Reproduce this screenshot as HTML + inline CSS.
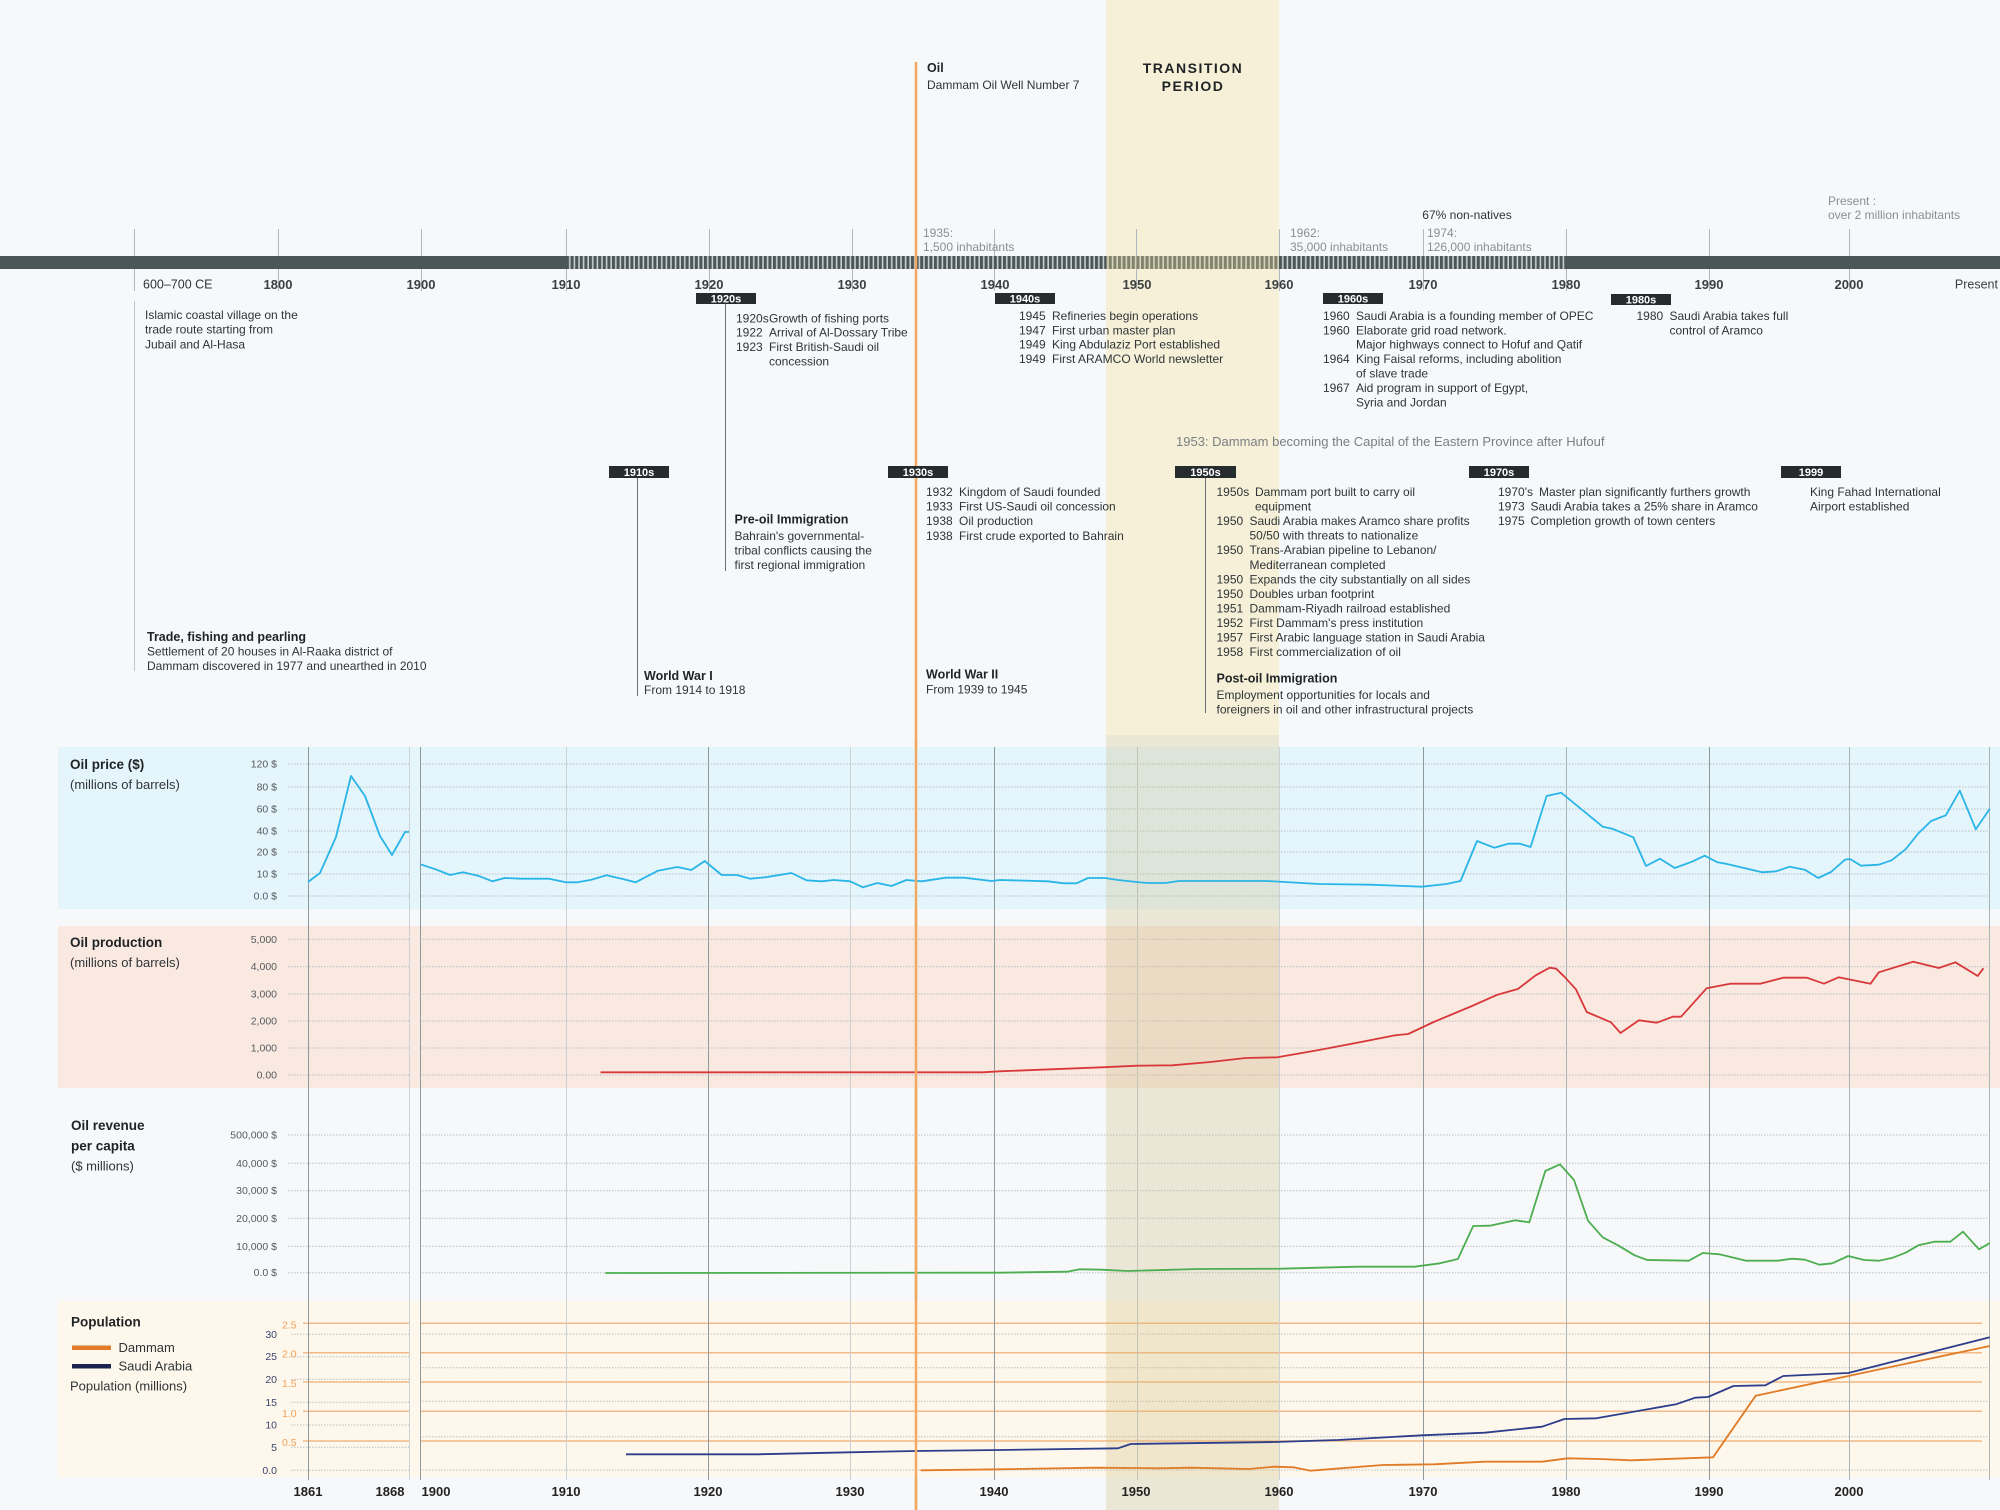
<!DOCTYPE html>
<html><head><meta charset="utf-8"><title>Dammam timeline</title>
<style>
html,body{margin:0;padding:0;background:#f7f8fa;}
svg{display:block;font-family:"Liberation Sans","DejaVu Sans",sans-serif;}
.t{font-size:12px;fill:#2f3437;}
.b{font-size:12.5px;font-weight:bold;fill:#1f2325;}
.g{font-size:12px;fill:#8a8f92;}
.yr{font-size:13px;font-weight:bold;fill:#3a3f42;text-anchor:middle;}
.box{fill:#262c2e;}
.bt{font-size:11px;font-weight:bold;fill:#ffffff;text-anchor:middle;}
.tk{font-size:10.5px;fill:#555b5e;text-anchor:end;}
.tko{font-size:10.5px;fill:#eea15c;}
.lab{font-size:13.5px;font-weight:bold;fill:#1f2325;}
.sub{font-size:13px;fill:#2f3437;}
.ax{font-size:13px;font-weight:bold;fill:#222;text-anchor:middle;}
.grid{stroke:#b7c0c4;stroke-width:1;stroke-dasharray:1.5 1.5;}
.og{stroke:#f2ba88;stroke-width:1.5;}
</style></head>
<body>
<svg width="2000" height="1510" viewBox="0 0 2000 1510" xmlns="http://www.w3.org/2000/svg">
<defs>
<pattern id="st" x="566" y="0" width="4.6" height="20" patternUnits="userSpaceOnUse">
<rect width="4.6" height="20" fill="#4b5659"/>
<rect x="3" width="1.6" height="20" fill="#c7ced0"/>
</pattern>
</defs>
<rect width="2000" height="1510" fill="#f7f8fa"/>

<!-- ===== TOP TIMELINE ===== -->
<rect x="0" y="256" width="2000" height="13" fill="#4b5659"/>
<rect x="566" y="256" width="1000" height="13" fill="url(#st)"/>

<!-- transition band top -->
<rect x="1106" y="0" width="173" height="735" fill="rgba(245,225,150,0.33)"/>

<!-- orange oil line (behind boxes/text) -->
<line x1="916" y1="62" x2="916" y2="1510" stroke="#f0a862" stroke-width="2.5"/>

<!-- ticks -->
<g stroke="#b0b8bb" stroke-width="1">
<line x1="134.5" y1="229" x2="134.5" y2="256"/><line x1="134.5" y1="269" x2="134.5" y2="291"/>
<line x1="278.5" y1="229" x2="278.5" y2="256"/><line x1="278.5" y1="269" x2="278.5" y2="291"/>
<line x1="421.5" y1="229" x2="421.5" y2="256"/><line x1="421.5" y1="269" x2="421.5" y2="291"/>
<line x1="566.5" y1="229" x2="566.5" y2="256"/><line x1="566.5" y1="269" x2="566.5" y2="291"/>
<line x1="709.5" y1="229" x2="709.5" y2="256"/><line x1="709.5" y1="269" x2="709.5" y2="291"/>
<line x1="852.5" y1="229" x2="852.5" y2="256"/><line x1="852.5" y1="269" x2="852.5" y2="291"/>
<line x1="994.5" y1="229" x2="994.5" y2="256"/><line x1="994.5" y1="269" x2="994.5" y2="291"/>
<line x1="1136.5" y1="229" x2="1136.5" y2="256"/><line x1="1136.5" y1="269" x2="1136.5" y2="291"/>
<line x1="1279.5" y1="229" x2="1279.5" y2="256"/><line x1="1279.5" y1="269" x2="1279.5" y2="291"/>
<line x1="1423.5" y1="229" x2="1423.5" y2="256"/><line x1="1423.5" y1="269" x2="1423.5" y2="291"/>
<line x1="1566.5" y1="229" x2="1566.5" y2="256"/><line x1="1566.5" y1="269" x2="1566.5" y2="291"/>
<line x1="1709.5" y1="229" x2="1709.5" y2="256"/><line x1="1709.5" y1="269" x2="1709.5" y2="291"/>
<line x1="1849.5" y1="229" x2="1849.5" y2="256"/><line x1="1849.5" y1="269" x2="1849.5" y2="291"/>
</g>
<line x1="134.5" y1="301" x2="134.5" y2="671" stroke="#c0c6c8" stroke-width="1"/>

<!-- year labels -->
<text x="143" y="288.5" class="t" style="font-size:12.5px">600–700 CE</text>
<text x="278" y="289" class="yr">1800</text>
<text x="421" y="289" class="yr">1900</text>
<text x="566" y="289" class="yr">1910</text>
<text x="709" y="289" class="yr">1920</text>
<text x="852" y="289" class="yr">1930</text>
<text x="995" y="289" class="yr">1940</text>
<text x="1137" y="289" class="yr">1950</text>
<text x="1279" y="289" class="yr">1960</text>
<text x="1423" y="289" class="yr">1970</text>
<text x="1566" y="289" class="yr">1980</text>
<text x="1709" y="289" class="yr">1990</text>
<text x="1849" y="289" class="yr">2000</text>
<text x="1998" y="288.5" class="t" text-anchor="end" style="font-size:12.5px;fill:#3a3f42">Present</text>

<!-- inhabitants annotations -->
<text x="923" y="237" class="g">1935:</text>
<text x="923" y="251" class="g">1,500 inhabitants</text>
<text x="1290" y="237" class="g">1962:</text>
<text x="1290" y="251" class="g">35,000 inhabitants</text>
<text x="1427" y="237" class="g">1974:</text>
<text x="1427" y="251" class="g">126,000 inhabitants</text>
<text x="1467" y="219" class="t" text-anchor="middle">67% non-natives</text>
<text x="1828" y="205" class="g">Present :</text>
<text x="1828" y="219" class="g">over 2 million inhabitants</text>

<!-- Oil / Transition -->
<text x="927" y="72" class="b">Oil</text>
<text x="927" y="89" class="t">Dammam Oil Well Number 7</text>
<text x="1193" y="73" text-anchor="middle" style="font-size:14px;font-weight:bold;fill:#1f2325;letter-spacing:1.5px">TRANSITION</text>
<text x="1193" y="91" text-anchor="middle" style="font-size:14px;font-weight:bold;fill:#1f2325;letter-spacing:1.5px">PERIOD</text>

<!-- connectors -->
<g stroke="#6b7173" stroke-width="1">
<line x1="725.5" y1="304" x2="725.5" y2="571"/>
<line x1="637.5" y1="478" x2="637.5" y2="696"/>
<line x1="1205.5" y1="478" x2="1205.5" y2="713"/>
</g>

<!-- decade boxes -->
<rect x="696" y="293" width="60" height="11" class="box"/><text x="726" y="302.5" class="bt">1920s</text>
<rect x="995" y="293" width="60" height="11" class="box"/><text x="1025" y="302.5" class="bt">1940s</text>
<rect x="1323" y="293" width="60" height="11" class="box"/><text x="1353" y="302.5" class="bt">1960s</text>
<rect x="1611" y="294" width="60" height="11" class="box"/><text x="1641" y="303.5" class="bt">1980s</text>
<rect x="609" y="466" width="60" height="12" class="box"/><text x="639" y="476" class="bt">1910s</text>
<rect x="888" y="466" width="60" height="12" class="box"/><text x="918" y="476" class="bt">1930s</text>
<rect x="1175" y="466" width="61" height="12" class="box"/><text x="1205.5" y="476" class="bt">1950s</text>
<rect x="1469" y="466" width="60" height="12" class="box"/><text x="1499" y="476" class="bt">1970s</text>
<rect x="1781" y="466" width="60" height="12" class="box"/><text x="1811" y="476" class="bt">1999</text>

<!-- 600-700 text -->
<text x="145" y="319" class="t">Islamic coastal village on the</text>
<text x="145" y="333.7" class="t">trade route starting from</text>
<text x="145" y="348.3" class="t">Jubail and Al-Hasa</text>

<!-- 1920s -->
<text x="736" y="322.3" class="t">1920s</text><text x="769" y="322.3" class="t">Growth of fishing ports</text>
<text x="736" y="336.6" class="t">1922</text><text x="769" y="336.6" class="t">Arrival of Al-Dossary Tribe</text>
<text x="736" y="351" class="t">1923</text><text x="769" y="351" class="t">First British-Saudi oil</text>
<text x="769" y="365.4" class="t">concession</text>

<!-- 1940s -->
<text x="1019" y="319.9" class="t">1945</text><text x="1052" y="319.9" class="t">Refineries begin operations</text>
<text x="1019" y="334.3" class="t">1947</text><text x="1052" y="334.3" class="t">First urban master plan</text>
<text x="1019" y="348.6" class="t">1949</text><text x="1052" y="348.6" class="t">King Abdulaziz Port established</text>
<text x="1019" y="363.2" class="t">1949</text><text x="1052" y="363.2" class="t">First ARAMCO World newsletter</text>

<!-- 1960s -->
<text x="1323" y="319.9" class="t">1960</text><text x="1356" y="319.9" class="t">Saudi Arabia is a founding member of OPEC</text>
<text x="1323" y="334.3" class="t">1960</text><text x="1356" y="334.3" class="t">Elaborate grid road network.</text>
<text x="1356" y="348.6" class="t">Major highways connect to Hofuf and Qatif</text>
<text x="1323" y="363.2" class="t">1964</text><text x="1356" y="363.2" class="t">King Faisal reforms, including abolition</text>
<text x="1356" y="377.5" class="t">of slave trade</text>
<text x="1323" y="392.2" class="t">1967</text><text x="1356" y="392.2" class="t">Aid program in support of Egypt,</text>
<text x="1356" y="406.5" class="t">Syria and Jordan</text>

<!-- 1980s -->
<text x="1636.5" y="319.9" class="t">1980</text><text x="1669.5" y="319.9" class="t">Saudi Arabia takes full</text>
<text x="1669.5" y="334.3" class="t">control of Aramco</text>

<!-- 1953 note -->
<text x="1176" y="446.2" style="font-size:13px;fill:#7a7f82">1953: Dammam becoming the Capital of the Eastern Province after Hufouf</text>

<!-- 1930s -->
<text x="926" y="495.9" class="t">1932</text><text x="959" y="495.9" class="t">Kingdom of Saudi founded</text>
<text x="926" y="510.5" class="t">1933</text><text x="959" y="510.5" class="t">First US-Saudi oil concession</text>
<text x="926" y="525.2" class="t">1938</text><text x="959" y="525.2" class="t">Oil production</text>
<text x="926" y="539.9" class="t">1938</text><text x="959" y="539.9" class="t">First crude exported to Bahrain</text>

<!-- 1950s -->
<text x="1216.5" y="495.9" class="t">1950s</text><text x="1255" y="495.9" class="t">Dammam port built to carry oil</text>
<text x="1255" y="510.5" class="t">equipment</text>
<text x="1216.5" y="525.1" class="t">1950</text><text x="1249.5" y="525.1" class="t">Saudi Arabia makes Aramco share profits</text>
<text x="1249.5" y="539.6" class="t">50/50 with threats to nationalize</text>
<text x="1216.5" y="554.2" class="t">1950</text><text x="1249.5" y="554.2" class="t">Trans-Arabian pipeline to Lebanon/</text>
<text x="1249.5" y="568.8" class="t">Mediterranean completed</text>
<text x="1216.5" y="583.4" class="t">1950</text><text x="1249.5" y="583.4" class="t">Expands the city substantially on all sides</text>
<text x="1216.5" y="597.9" class="t">1950</text><text x="1249.5" y="597.9" class="t">Doubles urban footprint</text>
<text x="1216.5" y="612.5" class="t">1951</text><text x="1249.5" y="612.5" class="t">Dammam-Riyadh railroad established</text>
<text x="1216.5" y="627" class="t">1952</text><text x="1249.5" y="627" class="t">First Dammam's press institution</text>
<text x="1216.5" y="641.6" class="t">1957</text><text x="1249.5" y="641.6" class="t">First Arabic language station in Saudi Arabia</text>
<text x="1216.5" y="656.1" class="t">1958</text><text x="1249.5" y="656.1" class="t">First commercialization of oil</text>
<text x="1216.5" y="682.6" class="b">Post-oil Immigration</text>
<text x="1216.5" y="699.2" class="t">Employment opportunities for locals and</text>
<text x="1216.5" y="713.5" class="t">foreigners in oil and other infrastructural projects</text>

<!-- 1970s -->
<text x="1498" y="495.9" class="t">1970's</text><text x="1539" y="495.9" class="t">Master plan significantly furthers growth</text>
<text x="1498" y="510.5" class="t">1973</text><text x="1530.5" y="510.5" class="t">Saudi Arabia takes a 25% share in Aramco</text>
<text x="1498" y="525.2" class="t">1975</text><text x="1530.5" y="525.2" class="t">Completion growth of town centers</text>

<!-- 1999 -->
<text x="1810" y="495.9" class="t">King Fahad International</text>
<text x="1810" y="510.5" class="t">Airport established</text>

<!-- pre-oil / trade / wars -->
<text x="734.5" y="523.3" class="b">Pre-oil Immigration</text>
<text x="734.5" y="540.2" class="t">Bahrain's governmental-</text>
<text x="734.5" y="554.5" class="t">tribal conflicts causing the</text>
<text x="734.5" y="568.9" class="t">first regional immigration</text>

<text x="147" y="641" class="b">Trade, fishing and pearling</text>
<text x="147" y="655.5" class="t">Settlement of 20 houses in Al-Raaka district of</text>
<text x="147" y="670.2" class="t">Dammam discovered in 1977 and unearthed in 2010</text>

<text x="644" y="680" class="b">World War I</text>
<text x="644" y="694.2" class="t">From 1914 to 1918</text>
<text x="926" y="678.6" class="b">World War II</text>
<text x="926" y="693.5" class="t">From 1939 to 1945</text>

<!-- ===== CHARTS ===== -->
<rect x="58" y="747" width="1942" height="162" fill="#e5f5fc"/>
<rect x="58" y="926" width="1942" height="162" fill="#f9e9e1"/>
<rect x="58" y="1301" width="1942" height="176" fill="#fef7eb"/>

<!-- gridlines -->
<g class="grid">
<path d="M288 764H409M420 764H1990M288 787H409M420 787H1990M288 809H409M420 809H1990M288 831H409M420 831H1990M288 852H409M420 852H1990M288 874H409M420 874H1990M288 896H409M420 896H1990"/>
<path d="M288 939.3H409M420 939.3H1990M288 966.7H409M420 966.7H1990M288 994H409M420 994H1990M288 1021H409M420 1021H1990M288 1048H409M420 1048H1990M288 1075H409M420 1075H1990"/>
<path d="M288 1135H409M420 1135H1990M288 1163.3H409M420 1163.3H1990M288 1190.7H409M420 1190.7H1990M288 1218.3H409M420 1218.3H1990M288 1246.3H409M420 1246.3H1990M288 1272.7H409M420 1272.7H1990"/>
<path d="M291 1334.3H409M291 1356.7H409M291 1379.3H409M291 1402.3H409M291 1425H409M291 1447.3H409M291 1470.3H409"/>
<path d="M420 1334H1990M420 1367.7H1990M420 1401.3H1990M420 1436.7H1990M420 1470H1990"/>
</g>
<g class="og">
<path d="M303 1323.3H409M420 1323.3H1982M303 1352.7H409M420 1352.7H1982M303 1382H409M420 1382H1982M303 1411.3H409M420 1411.3H1982M303 1441H409M420 1441H1982"/>
</g>

<!-- vertical lines -->
<g stroke-width="1">
<line x1="308.5" y1="747" x2="308.5" y2="1480" stroke="#8f999c"/>
<line x1="409.5" y1="747" x2="409.5" y2="1480" stroke="#cbd2d5"/>
<line x1="420.5" y1="747" x2="420.5" y2="1480" stroke="#8f999c"/>
<line x1="566.5" y1="747" x2="566.5" y2="1480" stroke="#cbd2d5"/>
<line x1="708.5" y1="747" x2="708.5" y2="1480" stroke="#8f999c"/>
<line x1="850.5" y1="747" x2="850.5" y2="1480" stroke="#cbd2d5"/>
<line x1="994.5" y1="747" x2="994.5" y2="1480" stroke="#8f999c"/>
<line x1="1137.5" y1="747" x2="1137.5" y2="1480" stroke="#c3cacd"/>
<line x1="1279.5" y1="747" x2="1279.5" y2="1480" stroke="#cbd2d5"/>
<line x1="1423.5" y1="747" x2="1423.5" y2="1480" stroke="#8f999c"/>
<line x1="1566.5" y1="747" x2="1566.5" y2="1480" stroke="#a9b2b5"/>
<line x1="1709.5" y1="747" x2="1709.5" y2="1480" stroke="#8f999c"/>
<line x1="1849.5" y1="747" x2="1849.5" y2="1480" stroke="#a9b2b5"/>
<line x1="1989.5" y1="747" x2="1989.5" y2="1480" stroke="#a9b2b5"/>
</g>

<!-- transition band chart section -->
<rect x="1106" y="735" width="173" height="775" fill="rgba(200,180,110,0.25)"/>

<!-- left labels -->
<text x="70" y="769" class="lab">Oil price ($)</text>
<text x="70" y="789" class="sub">(millions of barrels)</text>
<text x="70" y="947" class="lab">Oil production</text>
<text x="70" y="967" class="sub">(millions of barrels)</text>
<text x="71" y="1130" class="lab">Oil revenue</text>
<text x="71" y="1150.7" class="lab">per capita</text>
<text x="71" y="1170.7" class="sub">($ millions)</text>
<text x="71" y="1326.7" class="lab">Population</text>
<rect x="72" y="1345.5" width="39" height="4.5" fill="#e07b28"/>
<text x="118.5" y="1352" class="sub">Dammam</text>
<rect x="72" y="1364" width="39" height="4.5" fill="#1b2450"/>
<text x="118.5" y="1370.5" class="sub">Saudi Arabia</text>
<text x="70" y="1390.5" class="sub">Population (millions)</text>

<!-- tick labels -->
<text x="277" y="767.5" class="tk">120 $</text>
<text x="277" y="790.5" class="tk">80 $</text>
<text x="277" y="812.5" class="tk">60 $</text>
<text x="277" y="834.5" class="tk">40 $</text>
<text x="277" y="855.5" class="tk">20 $</text>
<text x="277" y="877.5" class="tk">10 $</text>
<text x="277" y="899.5" class="tk">0.0 $</text>

<text x="277" y="942.8" class="tk">5,000</text>
<text x="277" y="970.2" class="tk">4,000</text>
<text x="277" y="997.5" class="tk">3,000</text>
<text x="277" y="1024.5" class="tk">2,000</text>
<text x="277" y="1051.5" class="tk">1,000</text>
<text x="277" y="1078.5" class="tk">0.00</text>

<text x="277" y="1138.5" class="tk">500,000 $</text>
<text x="277" y="1166.8" class="tk">40,000 $</text>
<text x="277" y="1194.2" class="tk">30,000 $</text>
<text x="277" y="1221.8" class="tk">20,000 $</text>
<text x="277" y="1249.8" class="tk">10,000 $</text>
<text x="277" y="1276.2" class="tk">0.0 $</text>

<g class="tk" style="fill:#3b4670">
<text x="277" y="1337.8">30</text>
<text x="277" y="1360.2">25</text>
<text x="277" y="1382.8">20</text>
<text x="277" y="1405.8">15</text>
<text x="277" y="1428.5">10</text>
<text x="277" y="1450.8">5</text>
<text x="277" y="1473.8">0.0</text>
</g>
<text x="282" y="1328.5" class="tko">2.5</text>
<text x="282" y="1357.5" class="tko">2.0</text>
<text x="282" y="1386.8" class="tko">1.5</text>
<text x="282" y="1416.8" class="tko">1.0</text>
<text x="282" y="1446.2" class="tko">0.5</text>

<!-- series -->
<g fill="none" stroke-linejoin="round" stroke-width="1.8">
<polyline stroke="#29b5e8" points="308,882 320,873 336,837 351,776 365,796 380,836 392,855 405,832 409,832"/>
<polyline stroke="#29b5e8" points="420.5,864.3 435.6,869.3 450.2,875 462.9,872.3 478,875.7 492.6,881.3 504.7,878 521.7,878.7 548.9,878.7 565.9,882.3 577.4,882.3 591.4,879.7 606.5,875.3 621.7,878.7 635.6,882.3 658,870.7 677.4,867 691.4,870 704.7,861 721.7,875 736.8,875 750.2,878.7 765.3,877.3 791.4,873 806.5,880.3 821.7,881.3 833.8,880 850.2,881.3 862.9,887.3 877.4,883 891.4,886 906.5,880 921.7,881.3 945.9,877.7 964.1,877.7 991.4,881 1000,880 1012.8,880.3 1047.8,881.3 1063.8,883.3 1076.5,883.3 1088,878 1105.2,878 1118,880 1146.7,883 1165.8,883 1178.6,881 1267.9,881 1318.9,884 1369.9,884.7 1422.2,886.7 1446.4,884 1460.5,881 1477,841 1494.3,847.7 1508.3,843.7 1519.8,843.7 1530.6,847 1546.6,796 1561.2,792.7 1602.7,826.7 1612.2,828.7 1633.3,837.3 1646,866 1660,858.7 1674.7,868 1692,861.7 1704.7,855.7 1717.5,862.3 1727,864 1762.1,872.3 1776.1,871.3 1789.5,866.7 1804.8,869.7 1818.2,878 1831,872 1845,859.7 1850.1,859 1861,865.7 1878.8,864.7 1891.6,860.3 1905.6,849.3 1918.4,833.3 1931.1,821 1945.8,815.3 1959.8,790.7 1975.8,829.3 1989.8,808.7"/>
<polyline stroke="#d9383a" points="600.5,1072.3 982.3,1072.3 1000,1071.3 1102,1067.3 1137,1065.7 1172.2,1065.3 1210.5,1062 1245.5,1058 1277.4,1057.3 1318.9,1050 1357.1,1042.7 1395.4,1035.3 1408.2,1034 1433.7,1022 1472,1006 1497.4,994.7 1517.9,989 1535.7,975.3 1549.7,967.7 1556.1,968.7 1564.4,976.7 1575.9,989.3 1586.7,1012 1611,1022.3 1620.5,1033 1639,1020.3 1656.9,1022.7 1672.8,1016.7 1681.1,1016.7 1706.6,988.3 1730.2,983.7 1760.2,983.7 1783.2,977.7 1806.8,977.7 1824,983.7 1838.6,977.3 1870.5,983.7 1878.8,972.3 1913.3,961.7 1938.8,968 1955.4,962.3 1977.7,976 1983.4,968.3"/>
<polyline stroke="#4cae50" points="605.3,1273 1000,1272.7 1067,1271.7 1079.7,1269.3 1102,1269.7 1127.6,1271 1197.7,1269 1280.6,1268.7 1357.1,1266.7 1414.5,1266.7 1440,1263.3 1457.9,1259 1473.2,1226 1489.8,1225.7 1515.3,1220.3 1529.3,1222.3 1545.3,1171 1560,1164.3 1574,1180 1588,1220.7 1602.7,1237.3 1618.6,1245.7 1634.6,1255.3 1647.3,1260 1688.8,1260.7 1702.8,1253 1719.4,1254.3 1746.2,1260.7 1778,1260.7 1792.1,1258.7 1804.8,1259.7 1819.5,1264.7 1832.3,1263.3 1848.2,1256 1864.2,1260 1878.8,1260.7 1892.9,1257.7 1905.6,1252.7 1918.4,1245.3 1934.3,1241.7 1950.3,1241.7 1963,1231.7 1979,1249.3 1989.8,1243"/>
<polyline stroke="#2c3e8c" points="626,1454.3 673.2,1454.3 758,1454.3 849,1452.3 915.6,1451 1000,1450 1118,1448.3 1130.7,1444 1274.2,1442 1338,1440 1422.2,1435.3 1484.7,1432.7 1542.1,1426.7 1564.4,1419 1596.3,1418.3 1676,1404.3 1695.2,1397.7 1707.9,1397 1733.4,1386 1765.3,1385.3 1783.2,1376 1848.2,1373 1989.8,1337.3"/>
<polyline stroke="#e07b28" points="920.5,1470.3 1000,1469.3 1095.7,1467.7 1159.4,1468.3 1191.3,1467.7 1248.7,1469 1274.2,1466.7 1293.4,1467.3 1310.6,1470.7 1382.7,1465 1433.7,1464.3 1484.7,1461.7 1542.1,1461.7 1567.6,1458.3 1599.5,1459 1631.4,1460.3 1713,1457.3 1755.7,1395.7 1848.2,1376 1989.8,1346"/>
</g>

<!-- bottom axis labels -->
<text x="308" y="1496" class="ax">1861</text>
<text x="390" y="1496" class="ax">1868</text>
<text x="436" y="1496" class="ax">1900</text>
<text x="566" y="1496" class="ax">1910</text>
<text x="708" y="1496" class="ax">1920</text>
<text x="850" y="1496" class="ax">1930</text>
<text x="994" y="1496" class="ax">1940</text>
<text x="1136" y="1496" class="ax">1950</text>
<text x="1279" y="1496" class="ax">1960</text>
<text x="1423" y="1496" class="ax">1970</text>
<text x="1566" y="1496" class="ax">1980</text>
<text x="1709" y="1496" class="ax">1990</text>
<text x="1849" y="1496" class="ax">2000</text>

<!-- orange oil line over chart area -->
<line x1="916" y1="740" x2="916" y2="1510" stroke="#f0a862" stroke-width="2.5"/>
</svg>
</body></html>
